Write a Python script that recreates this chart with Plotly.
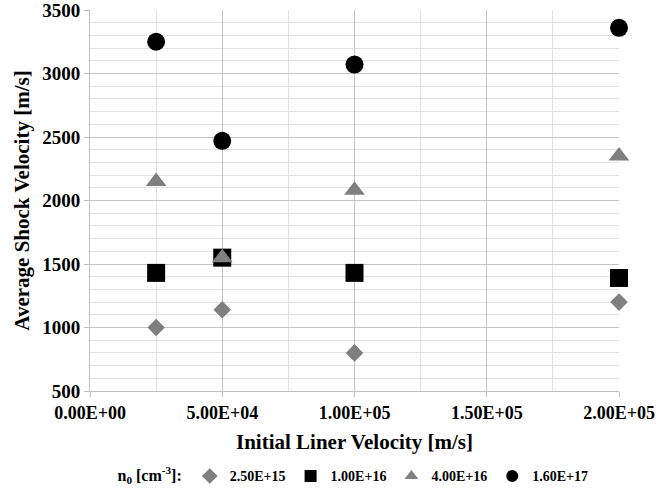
import plotly.graph_objects as go

# Initial liner velocity [m/s]
liner_velocity = [25000, 50000, 100000, 200000]

# Average shock velocity [m/s] for each initial density n0 [cm^-3]
density_labels = ["2.50E+15", "1.00E+16", "4.00E+16", "1.60E+17"]
shock_2_5e15 = [1000, 1140, 800, 1200]
shock_1_0e16 = [1430, 1550, 1430, 1390]
shock_4_0e16 = [2150, 1550, 2080, 2350]
shock_1_6e17 = [3250, 2470, 3070, 3360]

x_tick_vals = [0, 50000, 100000, 150000, 200000]
x_tick_text = ["0.00E+00", "5.00E+04", "1.00E+05", "1.50E+05", "2.00E+05"]
y_tick_vals = [500, 1000, 1500, 2000, 2500, 3000, 3500]

series = [
    (density_labels[0], shock_2_5e15, "diamond", "#7f7f7f", 13.5),
    (density_labels[1], shock_1_0e16, "square", "#000000", 18),
    (density_labels[2], shock_4_0e16, "triangle-up", "#7f7f7f", 18),
    (density_labels[3], shock_1_6e17, "circle", "#000000", 18),
]

font_family = "Liberation Serif"

fig = go.Figure()
for name, values, symbol, color, size in series:
    fig.add_trace(go.Scatter(
        x=liner_velocity, y=values, mode="markers", name="<b>" + name + "</b>",
        marker=dict(symbol=symbol, color=color, size=size, line=dict(width=0)),
        cliponaxis=False,
    ))

fig.update_layout(
    width=656, height=497,
    margin=dict(l=90, r=37, t=10, b=106, autoexpand=False),
    paper_bgcolor="white", plot_bgcolor="white",
    font=dict(family=font_family, size=14, color="#000000"),
    xaxis=dict(
        range=[0, 200000], tickvals=x_tick_vals, ticktext=["<b>" + t + "</b>" for t in x_tick_text],
        showgrid=True, gridcolor="#c4c4c4", gridwidth=1,
        minor=dict(dtick=25000, showgrid=True, gridcolor="#e2e2e2", gridwidth=1),
        showline=True, linecolor="#bfbfbf", linewidth=1,
        ticks="outside", ticklen=5, tickcolor="#bfbfbf",
        zeroline=False, ticklabeloverflow="allow", automargin=False,
        title=dict(text="<b>Initial Liner Velocity [m/s]</b>", font=dict(size=21), standoff=12),
        tickfont=dict(size=18),
    ),
    yaxis=dict(
        range=[500, 3500], tickvals=y_tick_vals, ticktext=["<b>%d</b>" % v for v in y_tick_vals],
        showgrid=True, gridcolor="#c4c4c4", gridwidth=1,
        minor=dict(dtick=100, showgrid=True, gridcolor="#e2e2e2", gridwidth=1),
        showline=True, linecolor="#bfbfbf", linewidth=1,
        ticks="outside", ticklen=5, tickcolor="#bfbfbf",
        zeroline=False, ticklabeloverflow="allow", automargin=False,
        title=dict(text="<b>Average Shock Velocity [m/s]</b>", font=dict(size=21), standoff=6),
        tickfont=dict(size=19),
    ),
    showlegend=True,
    legend=dict(
        orientation="h", x=0.5, xanchor="center", y=-0.182, yanchor="top",
        title=dict(text="<b>n<sub>0</sub> [cm<sup>-3</sup>]:</b>", side="left", font=dict(size=16)),
        font=dict(size=14), itemsizing="constant", itemwidth=30,
        bgcolor="rgba(0,0,0,0)",
    ),
)

fig.write_html("out.html")
